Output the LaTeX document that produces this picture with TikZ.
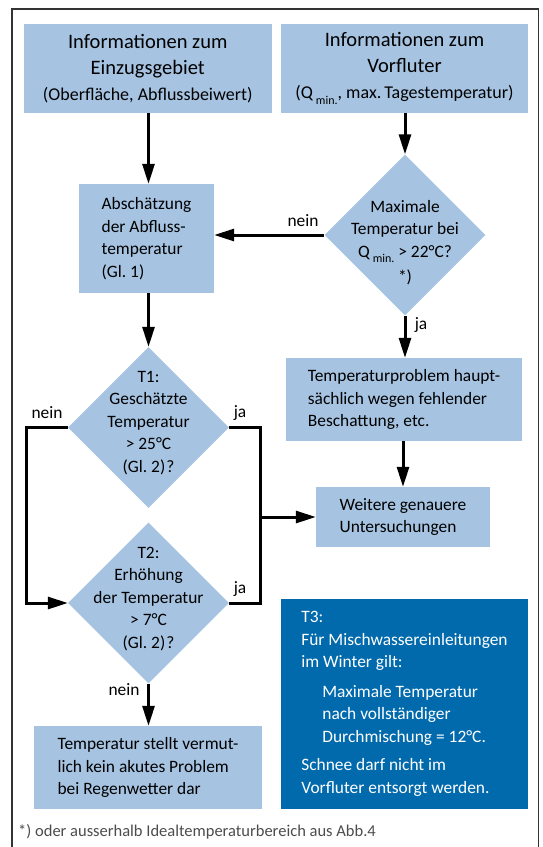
\documentclass[tikz,border=0pt]{standalone}
\usepackage{fontspec}
\setmainfont{Carlito}
\usetikzlibrary{arrows.meta, shapes.geometric}
\definecolor{paleBlue}{HTML}{A6C4E2}
\definecolor{deepBlue}{HTML}{006AAD}
\newcommand{\qmin}[1]{Q\,\raisebox{-0.3em}{\fontsize{#1}{#1}\selectfont min.}}

\begin{document}
\begin{tikzpicture}[
    x=1pt, y=-1pt,
    font=\fontsize{17.4}{22.5}\selectfont,
    >={Triangle[length=20pt, width=12pt]},
    head/.style={fill=paleBlue, inner sep=0pt, minimum height=89pt,
                 align=center, font=\fontsize{20.5}{26}\selectfont},
    block/.style={fill=paleBlue, inner sep=0pt, align=left},
    query/.style={diamond, fill=paleBlue, inner sep=0pt,
                  minimum width=161pt, minimum height=161pt},
    qtext/.style={align=center, inner sep=0pt},
    rulebox/.style={fill=deepBlue, text=white, inner sep=0pt, align=left},
    answer/.style={inner sep=0pt},
    arrow/.style={->, line width=3pt},
    link/.style={line width=3pt},
  ]
  \useasboundingbox (0,0) rectangle (542,847);
  % frame, open at the bottom
  \draw[line width=1.3pt, black!80] (12,847) -- (12,9) -- (538.5,9) -- (538.5,847);

  % input boxes
  \node[head, minimum width=248.5pt] (catch) at (147.75,68.5) {Informationen zum\\ Einzugsgebiet\\
    {\fontsize{18}{26}\selectfont (Oberfläche, Abflussbeiwert)}};
  \node[head, minimum width=247pt] (river) at (404.5,68.5) {Informationen zum\\ Vorfluter\\
    {\fontsize{18}{26}\selectfont (\qmin{12}, max.\,Tagestemperatur)}};

  % left branch
  \node[block, minimum width=135pt, minimum height=109pt] (est) at (146.5,238.5) {Abschätzung\\ der Abfluss-\\ temperatur\\ (Gl.~1)};
  \node[query] (tone) at (148.5,427.5) {};
  \node[qtext] (tonetext) at (148.5,423) {T1:\\ Geschätzte\\ Temperatur\\ > 25°C\\ (Gl.~2)\kern1pt?};
  \node[query] (ttwo) at (148.5,603) {};
  \node[qtext] (ttwotext) at (148.5,599) {T2:\\ Erhöhung\\ der Temperatur\\ > 7°C\\ (Gl.~2)\kern1pt?};
  \node[block, minimum width=228pt, minimum height=83pt] (noprob) at (148,767.5) {Temperatur stellt vermut-\\ lich kein akutes Problem\\ bei Regenwetter dar};

  % right branch
  \node[query] (maxT) at (405,235) {};
  \node[qtext] (maxTtext) at (405,242.5) {Maximale\\ Temperatur bei\\ \qmin{12} > 22°C?\\[3pt] *)};
  \node[block, minimum width=236pt, minimum height=83pt] (shade) at (404,399.5) {Temperaturproblem haupt-\\ sächlich wegen fehlender\\ Beschattung, etc.};
  \node[block, minimum width=174pt, minimum height=60pt] (further) at (403,517) {Weitere genauere\\ Untersuchungen};
  \node[rulebox, minimum width=247pt, minimum height=210pt] (winter) at (404.5,704) {T3:\\ Für Mischwassereinleitungen\\ im Winter gilt:\\[7pt]
    \hspace*{21pt}Maximale Temperatur\\ \hspace*{21pt}nach vollständiger\\ \hspace*{21pt}Durchmischung = 12°C.\\[6pt]
    Schnee darf nicht im\\ Vorfluter entsorgt werden.};

  % connectors
  \draw[arrow] (tone |- catch.south) -- (tone |- est.north);
  \draw[arrow] (tone |- est.south) -- (tone.north);
  \draw[arrow] (tone.west) -- ++(-41,0) |- (ttwo.west);
  \draw[link] (tone.east) -- ++(31.5,0) coordinate (merge) |- (ttwo.east);
  \draw[arrow] (merge |- further.west) -- (further.west);
  \draw[arrow] (ttwo.south) -- (ttwo |- noprob.north);
  \draw[arrow] (maxT |- river.south) -- (maxT.north);
  \draw[arrow] (maxT.west) -- (maxT.west -| est.east);
  \draw[arrow] (maxT.south) -- (maxT |- shade.north);
  \draw[arrow] (further |- shade.south) -- (further.north);

  % answers
  \node[answer] (neinA) at (303,221) {nein};
  \node[answer] (jaA) at (421,325) {ja};
  \node[answer] (neinB) at (47,413) {nein};
  \node[answer] (jaB) at (240,413) {ja};
  \node[answer] (jaC) at (240,589) {ja};
  \node[answer] (neinC) at (124,690) {nein};

  % footnote
  \node[anchor=west, inner sep=0pt, text=black!70, font=\fontsize{16.5}{20}\selectfont] (footnote) at (18,832)
    {*) oder ausserhalb Idealtemperaturbereich aus Abb.4};
\end{tikzpicture}
\end{document}
